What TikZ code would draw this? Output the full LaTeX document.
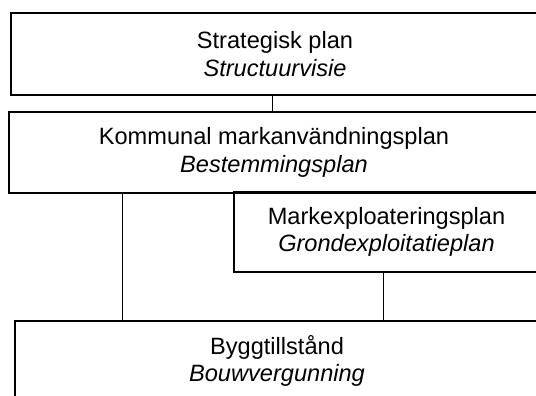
\documentclass[tikz,border=0pt]{standalone}
\usepackage{fontspec}
\setmainfont{Liberation Sans}
\usetikzlibrary{positioning}
\tikzset{
  planbox/.style={draw,line width=1.3pt,align=center,inner sep=0pt,
    font=\fontsize{23.6}{27.5}\selectfont},
  link/.style={line width=1.3pt}
}

\begin{document}
\begin{tikzpicture}[x=1pt,y=1pt]
  \useasboundingbox (0,0) rectangle (536,396);
  \clip (0,0) rectangle (536,396);
  % plan levels
  \node[planbox,minimum width=528pt,minimum height=82pt] (strat) at (275,342)
    {Strategisk plan\\\textit{Structuurvisie}};
  \node[planbox,minimum width=530pt,minimum height=81pt] (kommun) at (274,243.5)
    {Kommunal markanvändningsplan\\\textit{Bestemmingsplan}};
  \node[planbox,minimum width=305pt,minimum height=80pt] (markexp) at (386.5,164)
    {Markexploateringsplan\\\textit{Grondexploitatieplan}};
  \node[planbox,minimum width=524pt,minimum height=80pt] (bygg) at (277,35)
    {Byggtillstånd\\\textit{Bouwvergunning}};
  % links
  \draw[link] ([xshift=262pt]strat.south west) -- ([xshift=262pt]strat.south west |- kommun.north);
  \draw[link] ([xshift=114pt]kommun.south west) -- ([xshift=114pt]kommun.south west |- bygg.north);
  \draw[link] ([xshift=150pt]markexp.south west) -- ([xshift=150pt]markexp.south west |- bygg.north);
\end{tikzpicture}
\end{document}
